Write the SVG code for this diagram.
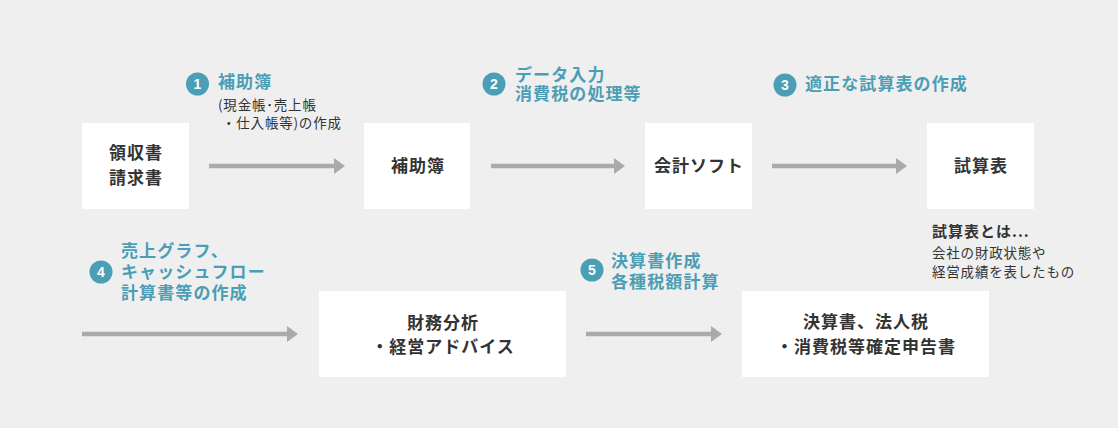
<svg xmlns="http://www.w3.org/2000/svg" width="1118" height="428" viewBox="0 0 1118 428">
<style>
text{font-family:"Noto Sans CJK JP","Noto Sans",sans-serif}
.box{fill:#fff}
.main{font-size:17px;font-weight:700;fill:#333;letter-spacing:1px;text-anchor:middle}
.head{font-size:17px;font-weight:700;fill:#4a9eb5;letter-spacing:1.1px}
.small{font-size:13.5px;fill:#333;letter-spacing:0.8px}
.note{font-size:15px;font-weight:700;fill:#333;letter-spacing:1px}
.num{fill:#4a9eb5}
.numt{font-family:"Liberation Sans",Arial,sans-serif;font-size:14px;font-weight:700;fill:#fff;text-anchor:middle}
.line{stroke:#aaa;stroke-width:4.5;fill:none}
.head-ar{fill:#aaa}
</style>
<rect width="1118" height="428" fill="#efefef"/>
<g id="connectors">
<line class="line" x1="209" y1="166" x2="335" y2="166"/><polygon class="head-ar" points="334,158 345,166 334,174"/>
<line class="line" x1="491" y1="166" x2="615" y2="166"/><polygon class="head-ar" points="614,158 625,166 614,174"/>
<line class="line" x1="772" y1="166" x2="897" y2="166"/><polygon class="head-ar" points="896,158 907,166 896,174"/>
<line class="line" x1="82" y1="334" x2="288" y2="334"/><polygon class="head-ar" points="287,326 298,334 287,342"/>
<line class="line" x1="586" y1="334" x2="712" y2="334"/><polygon class="head-ar" points="711,326 722,334 711,342"/>
</g>
<g id="node-ryoshusho">
<rect class="box" x="82" y="123" width="107" height="86"/>
<text class="main" x="136" y="159">領収書</text>
<text class="main" x="136" y="184">請求書</text>
</g>
<g id="node-hojobo">
<rect class="box" x="364" y="123" width="106" height="86"/>
<text class="main" x="418" y="172">補助簿</text>
</g>
<g id="node-kaikei">
<rect class="box" x="645" y="123" width="107" height="86"/>
<text class="main" x="699" y="172">会計ソフト</text>
</g>
<g id="node-shisanhyo">
<rect class="box" x="927" y="123" width="107" height="86"/>
<text class="main" x="981" y="172">試算表</text>
</g>
<g id="node-zaimu">
<rect class="box" x="319" y="291" width="247" height="86"/>
<text class="main" x="443" y="329">財務分析</text>
<text class="main" x="443" y="353">・経営アドバイス</text>
</g>
<g id="node-kessan">
<rect class="box" x="742" y="291" width="247" height="86"/>
<text class="main" x="866" y="328">決算書、法人税</text>
<text class="main" x="866" y="353">・消費税等確定申告書</text>
</g>
<g id="step1">
<circle class="num" cx="197.5" cy="84" r="11.5"/>
<text class="numt" x="197.5" y="89">1</text>
<text class="head" x="218" y="88">補助簿</text>
<text class="small" x="218" y="110">(現金帳･売上帳</text>
<text class="small" x="222" y="128">・仕入帳等)の作成</text>
</g>
<g id="step2">
<circle class="num" cx="494" cy="84" r="11.5"/>
<text class="numt" x="494" y="89">2</text>
<text class="head" x="515" y="81">データ入力</text>
<text class="head" x="515" y="100">消費税の処理等</text>
</g>
<g id="step3">
<circle class="num" cx="785" cy="85" r="11.5"/>
<text class="numt" x="785" y="90">3</text>
<text class="head" x="805" y="90">適正な試算表の作成</text>
<text class="note" x="932" y="237">試算表とは...</text>
<text class="small" x="932" y="258">会社の財政状態や</text>
<text class="small" x="932" y="277">経営成績を表したもの</text>
</g>
<g id="step4">
<circle class="num" cx="101" cy="272" r="11.5"/>
<text class="numt" x="101" y="277">4</text>
<text class="head" x="121" y="257">売上グラフ、</text>
<text class="head" x="121" y="278">キャッシュフロー</text>
<text class="head" x="121" y="299">計算書等の作成</text>
</g>
<g id="step5">
<circle class="num" cx="592" cy="270" r="11.5"/>
<text class="numt" x="592" y="275">5</text>
<text class="head" x="611" y="267">決算書作成</text>
<text class="head" x="611" y="288">各種税額計算</text>
</g>
</svg>
